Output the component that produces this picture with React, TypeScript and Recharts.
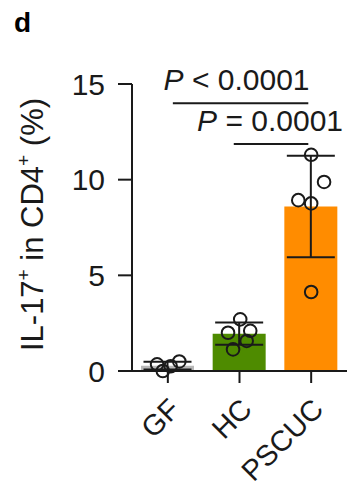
import React from 'react';
import { ComposedChart, Bar, XAxis, YAxis, Scatter, ErrorBar, ReferenceLine, Cell } from 'recharts';

const FONT = '"Liberation Sans", Arial, Helvetica, sans-serif';
const INK = '#1a1a1a';

const categories = ['GF', 'HC', 'PSCUC'];
const means = [0.28, 1.95, 8.6];
const sds = [0.2, 0.58, 2.65];
const barColors = ['#b8b8b8', '#4e8b00', '#ff8c00'];
const yTicks = [0, 5, 10, 15];

// individual points: position within category (category index units) and value
const gfX = [-0.15, -0.07, 0.04, 0.16];
const gfY = [0.35, 0.0, 0.25, 0.5];
const hcX = [1.01, 0.84, 1.15, 1.1, 0.91];
const hcY = [2.7, 2.0, 2.1, 1.57, 1.13];
const psX = [2.0, 2.18, 1.82, 2.0, 2.0];
const psY = [11.3, 9.88, 8.93, 8.76, 4.13];

// significance brackets
const sig1 = { from: 0.07, to: 1.96, y: 14.0, op: '<', p: '0.0001' };
const sig2 = { from: 0.92, to: 1.96, y: 11.86, op: '=', p: '0.0001' };

const barData = categories.map((name, i) => ({ name, mean: means[i], sd: sds[i] }));
const pointData = [
  ...gfX.map((x, i) => ({ x, y: gfY[i] })),
  ...hcX.map((x, i) => ({ x, y: hcY[i] })),
  ...psX.map((x, i) => ({ x, y: psY[i] })),
];

const Dot = (props: any) => (
  <circle cx={props.cx} cy={props.cy} r={6.3} fill="none" stroke={INK} strokeWidth={2} />
);

const XTick = (props: any) => {
  const { x, y, payload } = props;
  const ax = x + 14;
  const ay = y + 26;
  return (
    <text
      x={ax}
      y={ay}
      textAnchor="end"
      transform={`rotate(-45, ${ax}, ${ay})`}
      fontFamily={FONT}
      fontSize={29}
      fill={INK}
    >
      {payload.value}
    </text>
  );
};

const YLabel = (props: any) => {
  const vb = props.viewBox || { x: 0, y: 84, width: 132, height: 287 };
  const cx = vb.x + 43;
  const cy = vb.y + vb.height / 2 - 3;
  return (
    <text
      x={cx}
      y={cy}
      textAnchor="middle"
      transform={`rotate(-90, ${cx}, ${cy})`}
      fontFamily={FONT}
      fontSize={31}
      fill={INK}
    >
      IL-17
      <tspan fontSize={19} dy={-13}>+</tspan>
      <tspan dy={13}> in CD4</tspan>
      <tspan fontSize={19} dy={-13}>+</tspan>
      <tspan dy={13}> (%)</tspan>
    </text>
  );
};

const SigLabel = (props: any) => {
  const vb = props.viewBox || { x: 0, y: 0, width: 0, height: 0 };
  const cx = vb.x + vb.width / 2 - props.shift;
  const cy = vb.y - 13;
  return (
    <text x={cx} y={cy} textAnchor="middle" fontFamily={FONT} fontSize={30} fill={INK}>
      <tspan fontStyle="italic">P</tspan>
      {` ${props.op} ${props.p}`}
    </text>
  );
};

export default function App() {
  return (
    <div style={{ position: 'absolute', left: 0, top: 0, width: 347, height: 489, background: '#fff' }}>
      <div
        style={{
          position: 'absolute',
          left: 14,
          top: 9,
          fontFamily: FONT,
          fontWeight: 'bold',
          fontSize: 28,
          lineHeight: '28px',
          color: '#000',
        }}
      >
        d
      </div>
      <ComposedChart
        width={347}
        height={489}
        data={barData}
        margin={{ top: 84, right: 0, bottom: 18, left: 0 }}
      >
        <XAxis
          xAxisId="cat"
          dataKey="name"
          type="category"
          height={100}
          tickSize={12}
          axisLine={{ stroke: INK, strokeWidth: 2 }}
          tickLine={{ stroke: INK, strokeWidth: 2 }}
          tick={<XTick />}
          interval={0}
        />
        <XAxis xAxisId="num" type="number" dataKey="x" domain={[-0.5, 2.5]} hide />
        <YAxis
          width={132}
          domain={[0, 15]}
          ticks={yTicks}
          tickSize={14}
          tickMargin={13}
          axisLine={{ stroke: INK, strokeWidth: 2 }}
          tickLine={{ stroke: INK, strokeWidth: 2 }}
          tick={{ fontFamily: FONT, fontSize: 30, fill: INK }}
          label={<YLabel />}
        />
        <Bar xAxisId="cat" dataKey="mean" barSize={53} isAnimationActive={false}>
          {barData.map((d, i) => (
            <Cell key={d.name} fill={barColors[i]} />
          ))}
          <ErrorBar dataKey="sd" width={24} stroke={INK} strokeWidth={2} direction="y" />
        </Bar>
        <Scatter
          xAxisId="num"
          data={pointData}
          dataKey="y"
          shape={<Dot />}
          isAnimationActive={false}
        />
        <ReferenceLine
          xAxisId="num"
          segment={[{ x: sig1.from, y: sig1.y }, { x: sig1.to, y: sig1.y }]}
          stroke={INK}
          strokeWidth={2}
          ifOverflow="visible"
          label={<SigLabel op={sig1.op} p={sig1.p} shift={4} />}
        />
        <ReferenceLine
          xAxisId="num"
          segment={[{ x: sig2.from, y: sig2.y }, { x: sig2.to, y: sig2.y }]}
          stroke={INK}
          strokeWidth={2}
          ifOverflow="visible"
          label={<SigLabel op={sig2.op} p={sig2.p} shift={1} />}
        />
      </ComposedChart>
    </div>
  );
}
